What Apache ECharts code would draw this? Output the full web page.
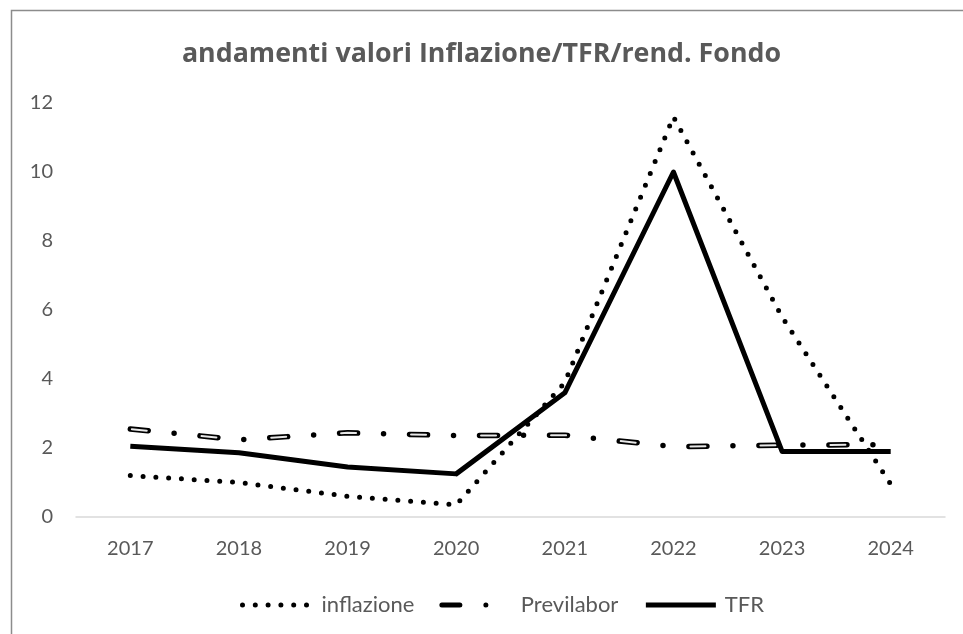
<!DOCTYPE html>
<html>
<head>
<meta charset="utf-8">
<title>andamenti valori Inflazione/TFR/rend. Fondo</title>
<script src="https://cdn.jsdelivr.net/npm/echarts@6/dist/echarts.min.js"></script>
<style>
  html, body { margin: 0; padding: 0; background: #fff; }
  #myChart { width: 963px; height: 634px; }
</style>
</head>
<body>
<div id="myChart"></div>
<script>
// anni (asse x)
const anni = ['2017', '2018', '2019', '2020', '2021', '2022', '2023', '2024']
// valori
const inflazione = [1.2, 1.0, 0.6, 0.35, 3.9, 11.6, 5.8, 0.95]
const previlabor = [2.55, 2.24, 2.44, 2.36, 2.37, 2.04, 2.08, 2.1]
const tfr = [2.05, 1.86, 1.45, 1.25, 3.6, 10.0, 1.9, 1.9]
// tacche asse y
const yMin = 0
const yMax = 12
const yStep = 2

const grigio = '#595959'
const font = 'Lato, "Open Sans", sans-serif'

let myChart = echarts.init(document.getElementById('myChart'))
let option = {
  animation: false,
  backgroundColor: '#fff',
  title: {
    text: 'andamenti valori Inflazione/TFR/rend. Fondo',
    left: 'center',
    top: 36,
    textStyle: {
      color: grigio,
      fontFamily: '"Open Sans", Lato, sans-serif',
      fontSize: 26.8,
      fontWeight: 'bold',
    },
  },
  /* cornice */
  graphic: [
    {
      type: 'rect',
      shape: { x: 11.5, y: 10.5, width: 1000, height: 700 },
      style: { fill: 'none', stroke: '#8c8c8c', lineWidth: 1.5 },
      silent: true,
    },
  ],
  grid: {
    left: 76,
    right: 18,
    top: 103,
    bottom: 117,
  },
  legend: {
    data: ['inflazione', 'Previlabor', 'TFR'],
    left: 235,
    top: 589,
    itemWidth: 70,
    itemHeight: 20,
    itemGap: 25,
    itemStyle: { opacity: 0 },
    lineStyle: { width: 5 },
    textStyle: {
      color: grigio,
      fontFamily: font,
      fontSize: 22,
      padding: [0, 0, 0, 4],
    },
  },
  xAxis: {
    type: 'category',
    data: anni,
    boundaryGap: true,
    axisLine: { lineStyle: { color: '#d9d9d9', width: 1.5 } },
    axisTick: { show: false },
    axisLabel: {
      color: grigio,
      fontFamily: font,
      fontSize: 20,
      margin: 22,
    },
  },
  yAxis: {
    type: 'value',
    min: yMin,
    max: yMax,
    interval: yStep,
    axisLine: { show: false },
    axisTick: { show: false },
    splitLine: { show: false },
    axisLabel: {
      color: grigio,
      fontFamily: font,
      fontSize: 20,
      margin: 23,
    },
  },
  series: [
    {
      name: 'inflazione',
      type: 'line',
      data: inflazione,
      symbol: 'none',
      itemStyle: { color: '#000' },
      lineStyle: { color: '#000', width: 5, type: [0, 12.8], cap: 'round', join: 'round' },
    },
    {
      name: 'Previlabor',
      type: 'line',
      data: previlabor,
      symbol: 'none',
      itemStyle: { color: '#000' },
      lineStyle: { color: '#000', width: 5.5, type: [18, 26, 0, 26], cap: 'round', join: 'round' },
    },
    {
      // interno chiaro dei trattini di Previlabor
      name: 'Previlabor_interno',
      type: 'line',
      data: previlabor,
      symbol: 'none',
      silent: true,
      itemStyle: { color: '#e8e8e8' },
      lineStyle: { color: '#e8e8e8', width: 2, type: [15, 55], dashOffset: 68.5, cap: 'round', join: 'round' },
    },
    {
      name: 'TFR',
      type: 'line',
      data: tfr,
      symbol: 'none',
      itemStyle: { color: '#000' },
      lineStyle: { color: '#000', width: 5, join: 'round' },
    },
  ],
}
myChart.setOption(option, true)
</script>
</body>
</html>
